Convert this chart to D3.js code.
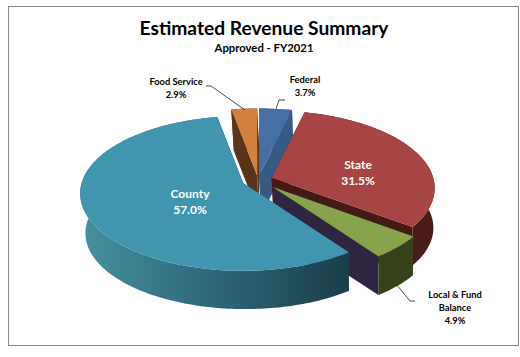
<!DOCTYPE html>
<html>
<head>
<meta charset="utf-8">
<script src="https://cdnjs.cloudflare.com/ajax/libs/d3/7.8.5/d3.min.js"></script>
<style>
    html, body { margin: 0; padding: 0; background: #fff; }
    text { font-family: Lato, "Open Sans", sans-serif; text-anchor: middle; }
</style>
</head>
<body>
<div id="chart"></div>
<script>
// values, in pie order (clockwise from 12 o'clock)
const categories = ['Federal', 'State', 'Local & Fund Balance', 'County', 'Food Service'];
const shares = [3.7, 31.5, 4.9, 57.0, 2.9];
const topColors = ['#4670a5', '#a64543', '#87a34b', '#4195ae', '#d48140'];
const cutColors = ['#375a82', '#451a16', '#2f2540', '#1c3f4d', '#59341a'];
const rimColors = ['#375a82', '#4a1c17', '#36431a', '#1c3f4d', '#59341a'];
const explode = [0.06, 0.09, 0.13, 0.1, 0.06];

const W = 520, H = 357;
const cx = 258, cy = 180;          // pie centre
const rx = 161.5, ry = 76;         // radii of the top face
const persp = 0.135;               // perspective strength
const depth = 40;                  // extrusion
const bottomScale = 0.98;          // base looks a bit smaller than the top
const bottomShift = 2;             // and sits slightly to the right

let svg = d3.select('#chart').append('svg').attr('width', W).attr('height', H);

// frame
svg.append('rect')
    .attr('x', 8.5).attr('y', 6.5).attr('width', 510).attr('height', 339)
    .attr('fill', '#fff').attr('stroke', '#868686').attr('stroke-width', 1);

// left light -> right dark on the county rim
let defs = svg.append('defs');
let grad = defs.append('linearGradient')
    .attr('id', 'countyRim').attr('gradientUnits', 'userSpaceOnUse')
    .attr('x1', 80).attr('x2', 350).attr('y1', 0).attr('y2', 0);
grad.append('stop').attr('offset', '0').attr('stop-color', '#46909f');
grad.append('stop').attr('offset', '0.45').attr('stop-color', '#2f6a7c');
grad.append('stop').attr('offset', '1').attr('stop-color', '#1b3d49');

let arcs = d3.pie().sort(null).value(d => d)(shares);
let line = d3.line().x(d => d[0]).y(d => d[1]);

// apex of a slice once pulled out along its mid angle
function apex(d, i) {
    let mid = (d.startAngle + d.endAngle) / 2;
    return [cx + explode[i] * rx * Math.sin(mid), cy - explode[i] * ry * Math.cos(mid)];
}

// point on the rim at angle a, z=0 top face, z=1 base
function rim(o, a, z) {
    let wx = Math.sin(a), wy = -Math.cos(a);
    let k = (z ? bottomScale : 1) / (1 - persp * wy);
    return [o[0] + z * bottomShift + rx * wx * k, o[1] + z * depth + ry * wy * k];
}

function sampleAngles(a0, a1) {
    let n = Math.max(2, Math.ceil((a1 - a0) / 0.02));
    return d3.range(n + 1).map(j => a0 + (a1 - a0) * j / n);
}

let g = svg.append('g');

// back slices first, then towards the viewer
[4, 0, 1, 2, 3].forEach(function (i) {
    let d = arcs[i], o = apex(d, i);
    let angles = sampleAngles(d.startAngle, d.endAngle);
    let slice = g.append('g').attr('class', 'slice');

    let low = [o[0] + bottomShift, o[1] + depth];
    let cut = function (a) {
        return [o, rim(o, a, 0), rim(o, a, 1), low];
    };
    slice.append('path').attr('d', line(cut(d.startAngle)) + 'Z').attr('fill', cutColors[i]);
    slice.append('path').attr('d', line(cut(d.endAngle)) + 'Z').attr('fill', cutColors[i]);

    // outer wall
    let wall = angles.map(a => rim(o, a, 0)).concat(angles.slice().reverse().map(a => rim(o, a, 1)));
    slice.append('path').attr('d', line(wall) + 'Z')
        .attr('fill', categories[i] === 'County' ? 'url(#countyRim)' : rimColors[i]);

    // top face
    let top = [o].concat(angles.map(a => rim(o, a, 0)));
    slice.append('path').attr('d', line(top) + 'Z').attr('fill', topColors[i]);
});

// leader lines
const leaders = [
    [[206, 86], [211, 86], [245, 110]],
    [[285, 100], [279, 100], [276, 109]],
    [[396, 284], [410, 301], [415, 301]]
];
svg.selectAll('.leader').data(leaders).enter().append('path')
    .attr('class', 'leader')
    .attr('d', line)
    .attr('fill', 'none').attr('stroke', '#222').attr('stroke-width', 0.8);

// titles
svg.append('text').attr('x', 264).attr('y', 35)
    .attr('font-size', 19.2).attr('font-weight', 700).attr('fill', '#000')
    .text('Estimated Revenue Summary');
svg.append('text').attr('x', 264).attr('y', 52)
    .attr('font-size', 11.3).attr('font-weight', 700).attr('fill', '#000')
    .text('Approved - FY2021');

// data labels
const fmt = d3.format('.1f');
const labelRows = [
    { lines: ['Federal'], i: 0, x: 305, y: 83, size: 9.3, fill: '#000' },
    { lines: ['State'], i: 1, x: 358, y: 169, size: 12, fill: '#fff' },
    { lines: ['Local & Fund', 'Balance'], i: 2, x: 455, y: 298, size: 9.3, fill: '#000' },
    { lines: ['County'], i: 3, x: 190, y: 198, size: 12, fill: '#fff' },
    { lines: ['Food Service'], i: 4, x: 176, y: 85, size: 9.3, fill: '#000' }
];
labelRows.forEach(function (l) {
    let rows = l.lines.concat(fmt(shares[l.i]) + '%');
    let step = l.size === 12 ? 16 : 13;
    svg.selectAll(null).data(rows).enter().append('text')
        .attr('x', l.x)
        .attr('y', (d, j) => l.y + j * step)
        .attr('font-size', l.size)
        .attr('font-weight', 700)
        .attr('fill', l.fill)
        .text(d => d);
});
</script>
</body>
</html>
